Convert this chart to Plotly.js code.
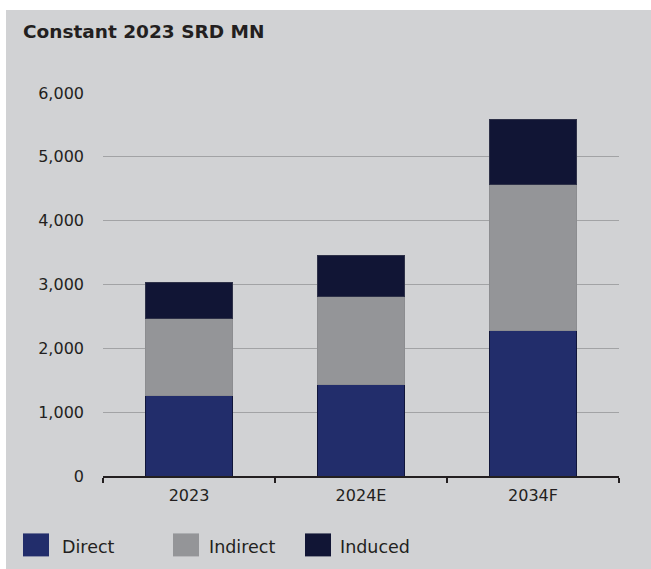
<!DOCTYPE html>
<html>
<head>
<meta charset="utf-8">
<script src="https://cdn.plot.ly/plotly-3.0.1.min.js"></script>
<style>
html,body{margin:0;padding:0;background:#ffffff;}
#chart{position:absolute;left:6px;top:10px;width:645px;height:559px;}
</style>
</head>
<body>
<div id="chart"></div>
<script>
// Data (Constant 2023 SRD MN)
const categories = ["2023", "2024E", "2034F"];
const seriesNames = ["Direct", "Indirect", "Induced"];
const direct   = [1265, 1428, 2283];
const indirect = [1196, 1378, 2276];
const induced  = [573, 646, 1027];
const yTickVals = [0, 1000, 2000, 3000, 4000, 5000, 6000];
const yTickText = ["0", "1,000", "2,000", "3,000", "4,000", "5,000", "6,000"];
const titleText = "Constant 2023 SRD MN";

const colors = ["#222d6b", "#949598", "#111535"];
const lineColors = ["#10153a", "#8c8d90", "#2e3148"];
const values = [direct, indirect, induced];

const W = 645, H = 559;
const mL = 97, mR = 32, mT = 83, mB = 92.5;
const plotW = W - mL - mR, plotH = H - mT - mB;
const px2x = p => (p - mL) / plotW;
const py2y = p => 1 - (p - mT) / plotH;

const traces = seriesNames.map((name, i) => ({
  type: "bar",
  name: name,
  x: categories,
  y: values[i],
  marker: {color: colors[i], line: {color: lineColors[i], width: 1}},
  showlegend: false,
  hoverinfo: "x+y+name"
}));

const fontFam = "'DejaVu Sans', 'Open Sans', sans-serif";
const textColor = "#231f20";

// custom legend (large swatches)
const legSwatchX = [17, 167, 299];
const legTextX = [54, 201, 332];
const shapes = [];
const annotations = [];
seriesNames.forEach((name, i) => {
  shapes.push({
    type: "rect", xref: "paper", yref: "paper",
    x0: px2x(legSwatchX[i]), x1: px2x(legSwatchX[i] + 26),
    y0: py2y(547), y1: py2y(524),
    fillcolor: colors[i], line: {width: 0}
  });
  annotations.push({
    xref: "paper", yref: "paper",
    x: px2x(legTextX[i]), y: py2y(538),
    xanchor: "left", yanchor: "middle",
    text: name, showarrow: false,
    font: {family: fontFam, size: 17.5, color: textColor}
  });
});

const layout = {
  width: W, height: H,
  margin: {l: mL, r: mR, t: mT, b: mB, pad: 0},
  paper_bgcolor: "#d1d2d4",
  plot_bgcolor: "rgba(0,0,0,0)",
  barmode: "stack",
  bargap: 0.49,
  font: {family: fontFam, size: 16, color: textColor},
  title: {
    text: "<b>" + titleText + "</b>",
    xref: "container", yref: "container",
    x: 17 / W, xanchor: "left",
    y: 1 - 22 / H, yanchor: "middle",
    font: {family: fontFam, size: 18.5, color: textColor}
  },
  xaxis: {
    type: "category",
    showline: true, linecolor: "#231f20", linewidth: 1.5,
    ticks: "outside", tickson: "boundaries", ticklen: 5, tickwidth: 1.5, tickcolor: "#231f20",
    ticklabelstandoff: 4,
    showgrid: false,
    tickfont: {family: fontFam, size: 16, color: textColor},
    fixedrange: true
  },
  yaxis: {
    range: [0, 6000],
    tickvals: yTickVals, ticktext: yTickText,
    showgrid: true, gridcolor: "#a2a3a5", gridwidth: 1,
    zeroline: false, showline: false,
    ticks: "", ticklabelstandoff: 18,
    tickfont: {family: fontFam, size: 16, color: textColor},
    fixedrange: true
  },
  shapes: shapes,
  annotations: annotations,
  showlegend: false
};

Plotly.newPlot("chart", traces, layout, {displayModeBar: false, staticPlot: true});
</script>
</body>
</html>
